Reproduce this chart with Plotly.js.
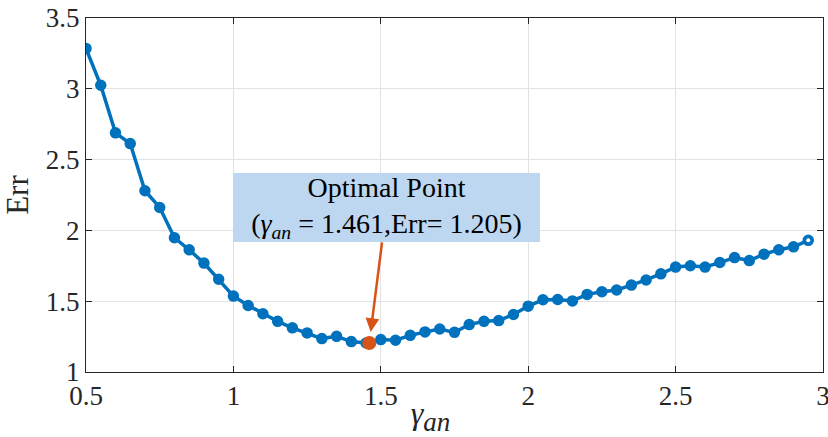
<!DOCTYPE html>
<html>
<head>
<meta charset="utf-8">
<script src="https://cdn.plot.ly/plotly-3.0.1.min.js"></script>
<style>html,body{margin:0;padding:0;background:#fff;}#chart{width:828px;height:437px;}</style>
</head>
<body>
<div id="chart"></div>
<script>
const gammaAn = [0.50,0.55,0.60,0.65,0.70,0.75,0.80,0.85,0.90,0.95,
                 1.00,1.05,1.10,1.15,1.20,1.25,1.30,1.35,1.40,1.45,
                 1.50,1.55,1.60,1.65,1.70,1.75,1.80,1.85,1.90,1.95,
                 2.00,2.05,2.10,2.15,2.20,2.25,2.30,2.35,2.40,2.45,
                 2.50,2.55,2.60,2.65,2.70,2.75,2.80,2.85,2.90,2.95];
const errValues = [3.285,3.025,2.689,2.613,2.280,2.162,1.948,1.863,1.769,1.655,
                   1.536,1.470,1.411,1.358,1.312,1.276,1.236,1.252,1.215,1.205,
                   1.229,1.224,1.259,1.283,1.304,1.280,1.335,1.358,1.363,1.406,
                   1.465,1.510,1.512,1.502,1.548,1.567,1.579,1.614,1.650,1.693,
                   1.741,1.750,1.741,1.773,1.808,1.787,1.832,1.863,1.884,1.930];
const optGamma = [1.461];
const optErr = [1.205];
const yTicks = [1, 1.5, 2, 2.5, 3, 3.5];
const xTicks = [0.5, 1, 1.5, 2, 2.5, 3];

const blue = '#0072BD';
const orange = '#D95319';

const traces = [
  {
    x: gammaAn, y: errValues, type: 'scatter', mode: 'lines+markers',
    line: {color: blue, width: 3.5},
    marker: {symbol: 'circle', size: 9, color: blue, line: {color: blue, width: 2.5}},
    hoverinfo: 'skip', showlegend: false
  },
  {
    x: gammaAn.slice(-1), y: errValues.slice(-1), type: 'scatter', mode: 'markers',
    marker: {symbol: 'circle', size: 4, color: '#ffffff', line: {width: 0}},
    hoverinfo: 'skip', showlegend: false
  },
  {
    x: optGamma, y: optErr, type: 'scatter', mode: 'markers',
    marker: {symbol: 'circle', size: 14, color: orange},
    hoverinfo: 'skip', showlegend: false
  }
];

const serif = 'Times New Roman';
const axisCommon = {
  showgrid: true, gridcolor: '#e2e2e2', gridwidth: 1,
  zeroline: false, showline: true, linecolor: '#262626', linewidth: 1,
  mirror: 'ticks', ticks: 'inside', ticklen: 6, tickcolor: '#262626', tickwidth: 1,
  tickfont: {family: serif, size: 27, color: '#262626'},
  ticklabeloverflow: 'allow'
};

const layout = {
  width: 828, height: 437,
  margin: {l: 86, r: 5, t: 18, b: 65},
  paper_bgcolor: '#ffffff', plot_bgcolor: '#ffffff',
  font: {family: serif},
  xaxis: Object.assign({}, axisCommon, {
    range: [0.5, 3], tickvals: xTicks, ticktext: xTicks.map(String),
    ticklabelstandoff: 0,
    title: {text: '<i>γ</i><sub><i><span style="font-size:27px">an</span></i></sub>&nbsp;&nbsp;&nbsp;&nbsp;&nbsp;&nbsp;', font: {family: serif, size: 32, color: '#262626'}, standoff: 2}
  }),
  yaxis: Object.assign({}, axisCommon, {
    range: [1, 3.5], tickvals: yTicks, ticktext: yTicks.map(String),
    title: {text: 'Err', font: {family: serif, size: 31, color: '#262626'}, standoff: 8}
  }),
  annotations: [{
    x: optGamma[0], y: optErr[0], xref: 'x', yref: 'y',
    ax: 1.519, ay: 2.159, axref: 'x', ayref: 'y',
    text: 'Optimal Point<br>(<i>γ</i><sub><i>an</i></sub> = ' + optGamma[0].toFixed(3) + ',Err= ' + optErr[0].toFixed(3) + ')',
    font: {family: serif, size: 28, color: '#000000'},
    align: 'center', bgcolor: '#BDD7F1', borderpad: 2, borderwidth: 0,
    width: 303, height: 65,
    showarrow: true, arrowhead: 2, arrowsize: 1.1, arrowwidth: 2.5, arrowcolor: orange, standoff: 11
  }]
};

Plotly.newPlot('chart', traces, layout, {staticPlot: true, displayModeBar: false});
</script>
</body>
</html>
